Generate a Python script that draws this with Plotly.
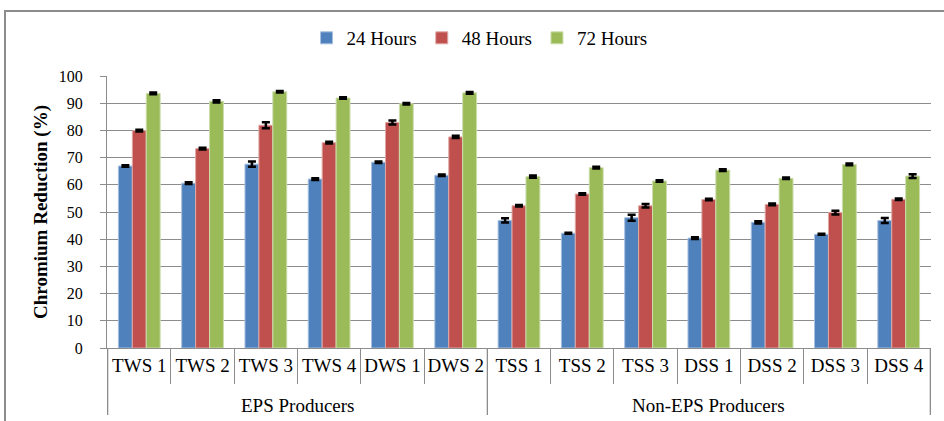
import plotly.graph_objects as go

# Strains, grouped by EPS production
groups = ["EPS Producers"] * 6 + ["Non-EPS Producers"] * 7
strains = ["TWS 1", "TWS 2", "TWS 3", "TWS 4", "DWS 1", "DWS 2",
           "TSS 1", "TSS 2", "TSS 3", "DSS 1", "DSS 2", "DSS 3", "DSS 4"]

# Chromium reduction (%) after each incubation time
red_24h = [66.9, 60.6, 67.6, 62.1, 68.3, 63.5, 46.9, 42.2, 47.9, 40.4, 46.2, 41.8, 46.9]
red_48h = [79.9, 73.3, 81.9, 75.5, 82.9, 77.6, 52.3, 56.6, 52.3, 54.6, 52.8, 49.8, 54.7]
red_72h = [93.6, 90.7, 94.2, 91.9, 89.8, 93.8, 63.0, 66.3, 61.4, 65.4, 62.4, 67.5, 63.2]

# Standard error of each mean
err_24h = [0.3, 0.3, 1.0, 0.3, 0.3, 0.3, 0.8, 0.2, 1.1, 0.3, 0.4, 0.2, 0.9]
err_48h = [0.3, 0.3, 1.1, 0.3, 0.7, 0.4, 0.3, 0.3, 0.6, 0.3, 0.3, 0.7, 0.3]
err_72h = [0.3, 0.4, 0.3, 0.3, 0.3, 0.3, 0.4, 0.3, 0.3, 0.3, 0.3, 0.3, 0.7]

series = [
    ("24 Hours", red_24h, err_24h, "#4F81BD", "#A7C0DE"),
    ("48 Hours", red_48h, err_48h, "#C0504D", "#DFA8A6"),
    ("72 Hours", red_72h, err_72h, "#9BBB59", "#CDDDAC"),
]

FONT = "Liberation Serif, Times New Roman, serif"
GRID = "#8C8C8C"
PLOT_H = 272  # plot-area height in px, used to place the group row

fig = go.Figure()
for name, vals, errs, color, edge in series:
    fig.add_trace(go.Bar(
        name=name,
        x=strains,
        y=vals,
        marker=dict(color=color, line=dict(color=edge, width=1)),
        error_y=dict(type="data", array=errs, visible=True,
                     color="black", thickness=2.5, width=4),
    ))

fig.update_layout(
    width=944, height=421,
    margin=dict(l=107, r=13, t=76, b=73, autoexpand=False),
    paper_bgcolor="white", plot_bgcolor="white",
    barmode="group", bargap=0.34, bargroupgap=0,
    font=dict(family=FONT, size=19, color="black"),
    legend=dict(orientation="h", xref="container", yref="container",
                x=0.508, xanchor="center", y=1 - 38 / 421, yanchor="middle",
                font=dict(family=FONT, size=19, color="black"),
                itemwidth=30, tracegroupgap=0),
    showlegend=True,
)

fig.update_yaxes(
    range=[0, 100], dtick=10,
    showgrid=True, gridcolor=GRID, gridwidth=1.3,
    showline=True, linecolor=GRID, linewidth=1.3,
    ticks="outside", ticklen=6, tickcolor=GRID, tickwidth=1.3,
    ticklabelstandoff=14,
    tickfont=dict(family=FONT, size=16, color="black"),
    title=dict(text="<b>Chromium Reduction (%)</b>",
               font=dict(family=FONT, size=19, color="black"), standoff=6),
    zeroline=False,
)

fig.update_xaxes(
    type="category", tickangle=0,
    showline=True, linecolor=GRID, linewidth=1.3,
    ticks="outside", tickson="boundaries", ticklen=35, tickcolor=GRID, tickwidth=1.3,
    tickfont=dict(family=FONT, size=19, color="black"),
    showgrid=False,
)

# Group row under the strain labels: dividers at group edges, name centred in each span
spans = []
start = 0
for i in range(1, len(groups) + 1):
    if i == len(groups) or groups[i] != groups[start]:
        spans.append((groups[start], start, i - 1))
        start = i

divider_bottom = -67 / PLOT_H
label_y = -57 / PLOT_H
edges = sorted({s - 0.5 for _, s, _ in spans} | {e + 0.5 for _, _, e in spans})
for xe in edges:
    fig.add_shape(type="line", xref="x", yref="paper",
                  x0=xe, x1=xe, y0=0, y1=divider_bottom,
                  line=dict(color=GRID, width=1.3))
for name, s, e in spans:
    fig.add_annotation(text=name, xref="x", yref="paper",
                       x=(s + e) / 2, y=label_y, xanchor="center", yanchor="middle",
                       showarrow=False, font=dict(family=FONT, size=19, color="black"))

# Outer chart frame
fig.add_shape(type="rect", xref="paper", yref="paper",
              x0=-102 / 824, x1=1.1, y0=-0.5, y1=1 + 65 / PLOT_H,
              line=dict(color=GRID, width=2), fillcolor="rgba(0,0,0,0)",
              layer="below")

fig.write_html("out.html")
